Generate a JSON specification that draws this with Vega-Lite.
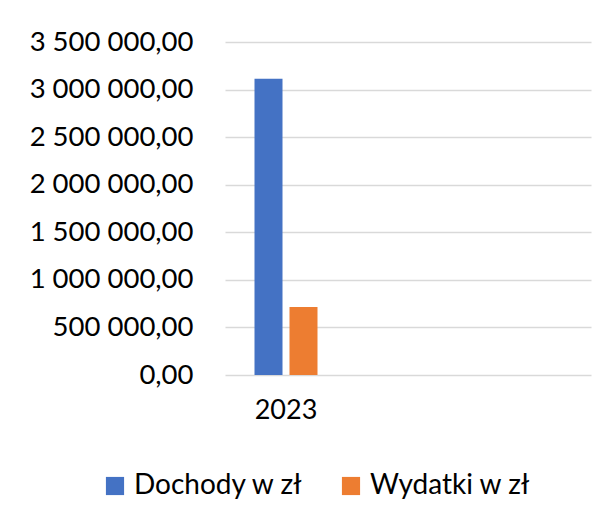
{
  "$schema": "https://vega.github.io/schema/vega-lite/v6.json",
  "autosize": "none",
  "padding": {"left": 225, "top": 42, "right": 22, "bottom": 142},
  "width": 366,
  "height": 333,
  "background": "white",
  "config": {
    "view": {"stroke": null},
    "font": "Lato",
    "locale": {"number": {"decimal": ",", "thousands": " ", "grouping": [3], "currency": ["", " zł"]}}
  },
  "data": {"values": [
    {"rok": "2023", "seria": "Dochody w zł", "kwota": 3115000},
    {"rok": "2023", "seria": "Wydatki w zł", "kwota": 716000}
  ]},
  "mark": {"type": "bar"},
  "encoding": {
    "x": {
      "field": "rok", "type": "nominal",
      "scale": {"domain": ["2023", "b", "c"], "paddingInner": 0, "paddingOuter": 0},
      "axis": {"title": null, "labelAngle": 0, "ticks": false, "domain": false, "labelFontSize": 27, "labelColor": "#000000", "labelPadding": 22, "labelExpr": "datum.value == '2023' ? '2023' : ''"}
    },
    "xOffset": {
      "field": "seria", "type": "nominal",
      "scale": {"paddingInner": 0.2, "paddingOuter": 0.843}
    },
    "y": {
      "field": "kwota", "type": "quantitative",
      "scale": {"domain": [0, 3500000], "nice": false},
      "axis": {"title": null, "values": [0, 500000, 1000000, 1500000, 2000000, 2500000, 3000000, 3500000], "format": ",.2f", "ticks": false, "domain": false, "labelFontSize": 27.5, "labelColor": "#000000", "labelPadding": 32, "gridColor": "#D9D9D9", "gridWidth": 1.3}
    },
    "color": {
      "field": "seria", "type": "nominal",
      "scale": {"domain": ["Dochody w zł", "Wydatki w zł"], "range": ["#4472C4", "#ED7D31"]},
      "legend": {"title": null, "orient": "none", "direction": "horizontal", "legendX": -124, "legendY": 430, "symbolType": "square", "symbolSize": 330, "symbolStrokeWidth": 0, "symbolOpacity": 1, "labelFontSize": 28, "labelColor": "#000000", "labelOffset": 5, "columnPadding": 33, "labelLimit": 300}
    }
  }
}
